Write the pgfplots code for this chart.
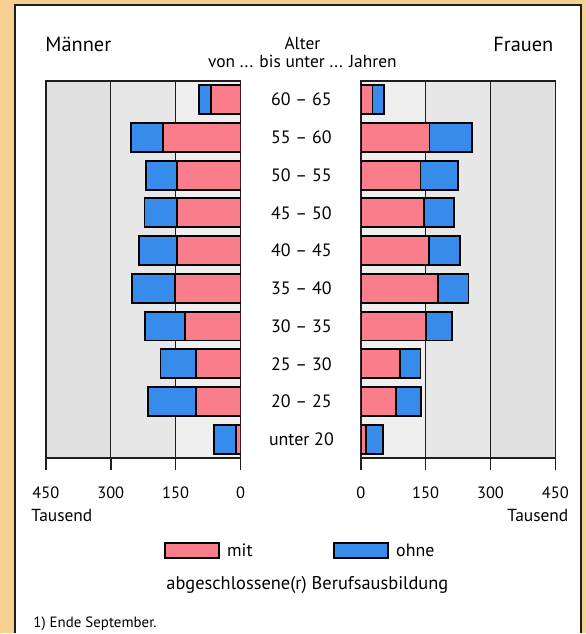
\documentclass[border=0pt]{standalone}
\usepackage{pgfplots}
\pgfplotsset{compat=1.18}
\usepackage{pgfplotstable}
\usepackage{fontspec}
\setmainfont{PT Sans}
\definecolor{pinkbar}{RGB}{250,125,140}
\definecolor{bluebar}{RGB}{55,140,235}
\definecolor{bgorange}{RGB}{246,208,145}
\definecolor{colA}{RGB}{224,224,224}
\definecolor{colB}{RGB}{231,231,231}
\definecolor{colC}{RGB}{239,239,239}
\definecolor{linecol}{RGB}{30,30,30}

\pgfplotstableread{
pos mit ohne
0 68 29
1 179 75
2 146 72
3 147 75
4 147 88
5 151 100
6 129 91
7 102 83
8 102 112
9 10 52
}\men

\pgfplotstableread{
pos mit ohne
0 27 27
1 159 99
2 138 86
3 146 70
4 157 72
5 179 70
6 150 61
7 90 48
8 81 59
9 12 40
}\women

\pgfplotsset{pyr/.style={
  scale only axis, width=195bp, height=378bp,
  xbar stacked, bar width=29bp,
  xmin=0, xmax=450, ymin=-0.5, ymax=9.5, y dir=reverse,
  xtick={0,150,300,450},
  xticklabels={0,150,300,450},
  xmajorgrids, grid style={linecol, line width=1.3bp},
  axis line style={linecol, line width=1.5bp},
  xtick style={linecol, line width=1.5bp},
  major tick length=12bp, tick align=outside, xtick pos=bottom,
  /pgf/number format/assume math mode=true,
  xticklabel style={font=\fontsize{16.5}{19}\selectfont, yshift=-13bp},
  every axis plot/.append style={draw=black, line width=1.9bp},
}}

\begin{document}
\begin{tikzpicture}[x=1bp,y=1bp]
\fill[bgorange] (0,0) rectangle (587,634);
\fill[white] (15,0) rectangle (582,629);
\draw[linecol, line width=1.5bp] (15,0) -- (15,629) -- (582,629) -- (582,0);
% column shading (background only)
\fill[colA] (46,175) rectangle (111,553);
\fill[colB] (111,175) rectangle (176,553);
\fill[colC] (176,175) rectangle (241,553);
\fill[colC] (361.5,175) rectangle (426.5,553);
\fill[colB] (426.5,175) rectangle (491.5,553);
\fill[colA] (491.5,175) rectangle (556.5,553);

\begin{axis}[pyr, at={(143.5bp,364bp)}, anchor=center, x dir=reverse,
  ytick={0,...,9},
  yticklabels={60 – 65,55 – 60,50 – 55,45 – 50,40 – 45,35 – 40,30 – 35,25 – 30,20 – 25,unter 20},
  yticklabel pos=right, ytick style={draw=none},
  yticklabel style={anchor=center, xshift=49bp, font=\fontsize{18}{20}\selectfont},
]
\addplot[fill=pinkbar] table[x=mit, y=pos] {\men};
\addplot[fill=bluebar] table[x=ohne, y=pos] {\men};
\end{axis}

\begin{axis}[pyr, at={(459bp,364bp)}, anchor=center,
  ytick=\empty,
  legend style={at={(axis description cs:-1.01,-0.245)}, anchor=west, draw=none, fill=none,
    font=\fontsize{18}{20}\selectfont, inner sep=0pt},
  legend columns=2,
  legend cell align=left,
  /tikz/every even column/.append style={column sep=79bp},
  legend image code/.code={\draw[#1, line width=1.9bp] (0bp,-7.5bp) rectangle (54bp,7.5bp);},
]
\addplot[fill=pinkbar] table[x=mit, y=pos] {\women};
\addplot[fill=bluebar] table[x=ohne, y=pos] {\women};
\legend{\hspace{5bp}mit, \hspace{5bp}ohne}
\end{axis}

\node[anchor=west, font=\fontsize{20.5}{23}\selectfont] at (42,589) {Männer};
\node[anchor=east, font=\fontsize{20.5}{23}\selectfont] at (558,589) {Frauen};
\node[font=\fontsize{17.5}{20}\selectfont] at (303,590) {Alter};
\node[font=\fontsize{17.5}{20}\selectfont] at (303,572) {von ... bis unter ... Jahren};
\node[anchor=west, font=\fontsize{17.5}{20}\selectfont] at (28,117) {Tausend};
\node[anchor=east, font=\fontsize{17.5}{20}\selectfont] at (573,117) {Tausend};
\node[font=\fontsize{18.5}{21}\selectfont] at (308,48) {abgeschlossene(r) Berufsausbildung};
\node[anchor=west, font=\fontsize{15}{17}\selectfont] at (30,9) {1) Ende September.};
\end{tikzpicture}
\end{document}
